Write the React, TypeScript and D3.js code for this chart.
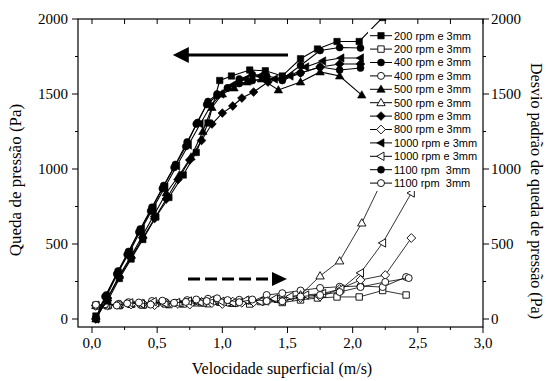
import React from "react";
import * as d3 from "d3";

const W = 546;
const H = 381;

// ---- Data (velocity in m/s, pressure drop / std deviation in Pa) ----
const v200 = [0.03, 0.12, 0.21, 0.3, 0.39, 0.49, 0.59, 0.7, 0.8, 0.89, 0.98, 1.07, 1.21, 1.33, 1.46, 1.6, 1.73, 1.88, 2.05, 2.23, 2.41];
const p200 = [20, 120, 270, 400, 530, 680, 810, 960, 1110, 1307, 1590, 1620, 1660, 1655, 1620, 1735, 1800, 1850, 1850, 2010, null];
const s200 = [92, 88, 90, 98, 94, 104, 96, 100, 108, 102, 112, 106, 100, 118, 110, 127, 140, 147, 147, 190, 160];

const v400 = [0.03, 0.11, 0.2, 0.28, 0.37, 0.46, 0.55, 0.64, 0.73, 0.81, 0.89, 0.96, 1.04, 1.13, 1.23, 1.34, 1.46, 1.6, 1.75, 1.9, 2.06, 2.23, 2.41];
const p400 = [10, 160, 320, 450, 600, 745, 890, 1030, 1180, 1310, 1450, 1500, 1540, 1600, 1630, 1620, 1600, 1690, 1790, 1810, 1807, null, null];
const s400 = [85, 95, 100, 112, 98, 120, 104, 108, 126, 118, 135, 120, 110, 128, 118, 160, 172, 190, 207, 215, 220, 213, 280];

const v500 = [0.03, 0.12, 0.21, 0.3, 0.39, 0.48, 0.57, 0.67, 0.76, 0.85, 0.92, 1.0, 1.09, 1.19, 1.3, 1.43, 1.6, 1.75, 1.9, 2.07, 2.27];
const p500 = [0, 140, 290, 420, 560, 700, 840, 960, 1080, 1250, 1410, 1500, 1540, 1580, 1600, 1527, 1580, 1647, 1620, 1493, null];
const s500 = [90, 92, 96, 100, 94, 108, 100, 104, 112, 106, 118, 110, 104, 122, 115, 130, 160, 287, 387, 640, 1000];

const v800 = [0.03, 0.12, 0.21, 0.3, 0.39, 0.48, 0.57, 0.66, 0.75, 0.84, 0.92, 1.0, 1.08, 1.15, 1.24, 1.35, 1.47, 1.6, 1.75, 1.9, 2.06, 2.25, 2.45];
const p800 = [0, 140, 280, 410, 540, 670, 800, 930, 1060, 1190, 1300, 1373, 1420, 1473, 1513, 1580, 1610, 1640, 1680, 1700, 1700, null, null];
const s800 = [88, 90, 98, 96, 104, 92, 110, 100, 96, 114, 106, 100, 116, 108, 112, 120, 125, 140, 150, 200, 260, 293, 540];

const v1000 = [0.03, 0.11, 0.2, 0.29, 0.38, 0.47, 0.56, 0.65, 0.74, 0.83, 0.91, 0.99, 1.08, 1.18, 1.29, 1.4, 1.52, 1.64, 1.77, 1.91, 2.06, 2.23, 2.45];
const p1000 = [0, 150, 310, 450, 600, 740, 880, 1020, 1160, 1300, 1420, 1500, 1560, 1600, 1620, 1600, 1620, 1680, 1720, 1740, 1740, null, null];
const s1000 = [92, 96, 94, 108, 100, 116, 104, 110, 120, 112, 124, 118, 108, 126, 116, 135, 150, 160, 170, 200, 307, 507, 840];

const v1100 = [0.03, 0.1, 0.19, 0.27, 0.36, 0.45, 0.54, 0.63, 0.72, 0.8, 0.88, 0.96, 1.04, 1.13, 1.23, 1.34, 1.46, 1.6, 1.75, 1.9, 2.06, 2.25, 2.43];
const p1100 = [0, 150, 300, 430, 580, 720, 870, 1010, 1150, 1300, 1430, 1490, 1540, 1570, 1590, 1600, 1590, 1640, 1680, 1660, 1673, null, null];
const s1100 = [95, 98, 90, 104, 110, 96, 122, 108, 114, 130, 120, 138, 126, 112, 130, 120, 118, 150, 160, 180, 213, 247, 273];

const legendLabels = [
  "200 rpm e 3mm", "200 rpm e 3mm",
  "400 rpm e 3mm", "400 rpm e 3mm",
  "500 rpm e 3mm", "500 rpm e 3mm",
  "800 rpm e 3mm", "800 rpm e 3mm",
  "1000 rpm e 3mm", "1000 rpm e 3mm",
  "1100 rpm  3mm", "1100 rpm  3mm",
];

const xTickValues = [0, 0.5, 1, 1.5, 2, 2.5, 3];
const xTickLabels = ["0,0", "0,5", "1,0", "1,5", "2,0", "2,5", "3,0"];
const yTickValues = [0, 500, 1000, 1500, 2000];
const yTickLabels = ["0", "500", "1000", "1500", "2000"];

// annotation arrows (data units)
const solidArrow = { from: 1.504, to: 0.62, y: 1760 };
const dashedArrow = { from: 0.737, to: 1.496, y: 267 };

type Shape = "square" | "circle" | "triUp" | "diamond" | "triLeft";

const series: { x: number[]; y: (number | null)[]; shape: Shape; filled: boolean }[] = [
  { x: v200, y: p200, shape: "square", filled: true },
  { x: v200, y: s200, shape: "square", filled: false },
  { x: v400, y: p400, shape: "circle", filled: true },
  { x: v400, y: s400, shape: "circle", filled: false },
  { x: v500, y: p500, shape: "triUp", filled: true },
  { x: v500, y: s500, shape: "triUp", filled: false },
  { x: v800, y: p800, shape: "diamond", filled: true },
  { x: v800, y: s800, shape: "diamond", filled: false },
  { x: v1000, y: p1000, shape: "triLeft", filled: true },
  { x: v1000, y: s1000, shape: "triLeft", filled: false },
  { x: v1100, y: p1100, shape: "circle", filled: true },
  { x: v1100, y: s1100, shape: "circle", filled: false },
];

const L = 78, R = 483, T = 19, B = 327;
const x = d3.scaleLinear().domain([-0.1074, 3]).range([L, R]);
const y = d3.scaleLinear().domain([-53.33, 2000]).range([B, T]);

function markerPath(shape: Shape, cx: number, cy: number): string {
  switch (shape) {
    case "square":
      return `M${cx - 3.2},${cy - 3.2}h6.4v6.4h-6.4Z`;
    case "circle": {
      const p = d3.path();
      p.arc(cx, cy, 3.5, 0, Math.PI * 2);
      p.closePath();
      return p.toString();
    }
    case "triUp":
      return `M${cx},${cy - 4.3}L${cx + 4.2},${cy + 3}L${cx - 4.2},${cy + 3}Z`;
    case "diamond":
      return `M${cx},${cy - 4.4}L${cx + 4.4},${cy}L${cx},${cy + 4.4}L${cx - 4.4},${cy}Z`;
    case "triLeft":
      return `M${cx - 4.3},${cy}L${cx + 3},${cy - 4.2}L${cx + 3},${cy + 4.2}Z`;
  }
}

const serif = "'Liberation Serif', 'Times New Roman', serif";
const sans = "'Liberation Sans', Arial, sans-serif";

export default function App() {
  const line = d3
    .line<[number, number | null]>()
    .defined((d) => d[1] !== null)
    .x((d) => x(d[0]))
    .y((d) => y(d[1] as number));

  const xMinor = d3.range(0, 3.001, 0.25);
  const yMinor = d3.range(0, 2000.1, 250);

  const legendX0 = 370;
  const legendY0 = 35.7;
  const legendDy = 13.4;

  return (
    <svg
      width={W}
      height={H}
      viewBox={`0 0 ${W} ${H}`}
      style={{ position: "absolute", left: 0, top: 0, background: "#fff" }}
    >
      <defs>
        <clipPath id="plotClip">
          <rect x={L} y={T} width={R - L} height={B - T} />
        </clipPath>
      </defs>
      <rect x={0} y={0} width={W} height={H} fill="#fff" />

      {/* data */}
      <g clipPath="url(#plotClip)">
        {series
          .map((s, i) => ({ s, i }))
          .sort((a, b) => Number(a.s.filled) - Number(b.s.filled))
          .map(({ s, i }) => {
            const pts = s.x.map((v, k) => [v, s.y[k]] as [number, number | null]);
            return (
              <g key={i}>
                <path
                  d={line(pts) || ""}
                  fill="none"
                  stroke="#000"
                  strokeWidth={s.filled ? 1.1 : 0.8}
                />
                {pts
                  .filter((d) => d[1] !== null)
                  .map((d, k) => (
                    <path
                      key={k}
                      d={markerPath(s.shape, x(d[0]), y(d[1] as number))}
                      fill={s.filled ? "#000" : "#fff"}
                      stroke="#000"
                      strokeWidth={s.filled ? 0.6 : 0.9}
                    />
                  ))}
              </g>
            );
          })}
      </g>

      {/* legend */}
      <rect x={368} y={29} width={114} height={162} fill="#fff" />
      {legendLabels.map((lab, i) => {
        const cy = legendY0 + i * legendDy;
        const s = series[i];
        return (
          <g key={i}>
            <line x1={legendX0} x2={legendX0 + 22} y1={cy} y2={cy} stroke="#000" strokeWidth={1} />
            <path
              d={markerPath(s.shape, legendX0 + 11, cy)}
              fill={s.filled ? "#000" : "#fff"}
              stroke="#000"
              strokeWidth={s.filled ? 0.6 : 0.9}
            />
            <text
              x={legendX0 + 24}
              y={cy}
              dy="0.35em"
              fontFamily={sans}
              fontSize={11}
              style={{ whiteSpace: "pre" }}
              xmlSpace="preserve"
            >
              {lab}
            </text>
          </g>
        );
      })}

      {/* arrows */}
      <line
        x1={x(solidArrow.from)}
        x2={x(solidArrow.to) + 13}
        y1={y(solidArrow.y)}
        y2={y(solidArrow.y)}
        stroke="#000"
        strokeWidth={3}
      />
      <path
        d={`M${x(solidArrow.to)},${y(solidArrow.y)}L${x(solidArrow.to) + 16},${y(solidArrow.y) - 8}L${x(solidArrow.to) + 16},${y(solidArrow.y) + 8}Z`}
        fill="#000"
      />
      <line
        x1={x(dashedArrow.from)}
        x2={x(dashedArrow.to) - 15}
        y1={y(dashedArrow.y)}
        y2={y(dashedArrow.y)}
        stroke="#000"
        strokeWidth={3}
        strokeDasharray="12,5"
      />
      <path
        d={`M${x(dashedArrow.to)},${y(dashedArrow.y)}L${x(dashedArrow.to) - 15},${y(dashedArrow.y) - 7}L${x(dashedArrow.to) - 15},${y(dashedArrow.y) + 7}Z`}
        fill="#000"
      />

      {/* frame */}
      <rect x={L} y={T} width={R - L} height={B - T} fill="none" stroke="#000" strokeWidth={1.2} />

      {/* bottom axis ticks (outward) */}
      {xMinor.map((v, i) => {
        const major = Math.abs(v * 2 - Math.round(v * 2)) < 1e-6;
        return (
          <line key={"bx" + i} x1={x(v)} x2={x(v)} y1={B} y2={B + (major ? 6 : 3)} stroke="#000" strokeWidth={1} />
        );
      })}
      {/* top axis ticks (inward) */}
      {xMinor.map((v, i) => (
        <line key={"tx" + i} x1={x(v)} x2={x(v)} y1={T} y2={T + 5} stroke="#000" strokeWidth={1} />
      ))}
      {xTickValues.map((v, i) => (
        <text
          key={"xl" + i}
          x={x(v)}
          y={348}
          textAnchor="middle"
          fontFamily={serif}
          fontSize={15}
        >
          {xTickLabels[i]}
        </text>
      ))}

      {/* left & right axis ticks */}
      {yMinor.map((v, i) => {
        const major = v % 500 === 0;
        const len = major ? 6 : 3;
        return (
          <g key={"y" + i}>
            <line x1={L - len} x2={L} y1={y(v)} y2={y(v)} stroke="#000" strokeWidth={1} />
            <line x1={R} x2={R + len} y1={y(v)} y2={y(v)} stroke="#000" strokeWidth={1} />
          </g>
        );
      })}
      {yTickValues.map((v, i) => (
        <g key={"yl" + i}>
          <text x={68} y={y(v)} dy="0.35em" textAnchor="end" fontFamily={serif} fontSize={15}>
            {yTickLabels[i]}
          </text>
          <text x={491} y={y(v)} dy="0.35em" textAnchor="start" fontFamily={serif} fontSize={15}>
            {yTickLabels[i]}
          </text>
        </g>
      ))}

      {/* titles */}
      <text x={282} y={374} textAnchor="middle" fontFamily={serif} fontSize={16}>
        Velocidade superficial (m/s)
      </text>
      <text
        transform={`translate(15,180) rotate(-90)`}
        textAnchor="middle"
        dy="0.35em"
        fontFamily={serif}
        fontSize={17}
      >
        Queda de pressão (Pa)
      </text>
      <text
        transform={`translate(537,191) rotate(90)`}
        textAnchor="middle"
        dy="0.35em"
        fontFamily={serif}
        fontSize={16}
      >
        Desvio padrão de queda de pressão (Pa)
      </text>
    </svg>
  );
}
